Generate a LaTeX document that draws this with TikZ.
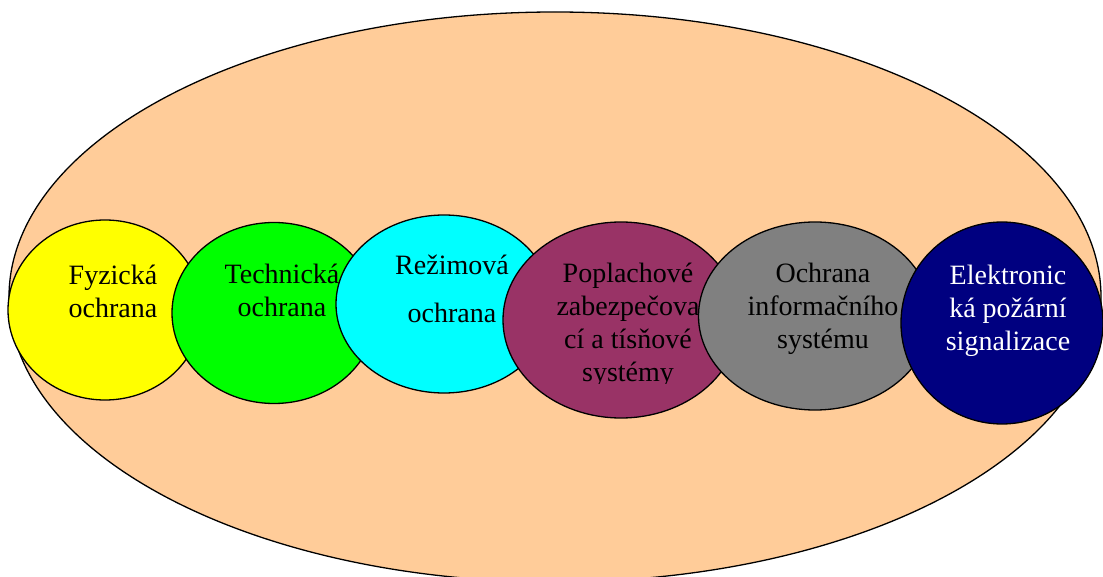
\documentclass[tikz,border=0pt]{standalone}
\usepackage{fontspec}
\setmainfont{Liberation Serif}
\usetikzlibrary{shapes.geometric}
\definecolor{peach}{RGB}{255,204,153}
\definecolor{citron}{RGB}{255,255,0}
\definecolor{lime}{RGB}{0,255,0}
\definecolor{aqua}{RGB}{0,255,255}
\definecolor{plum}{RGB}{153,51,102}
\definecolor{ash}{RGB}{128,128,128}
\definecolor{navyblue}{RGB}{0,0,128}
\begin{document}
\begin{tikzpicture}[x=1pt,y=1pt,
bub/.style={ellipse,draw,line width=1.3pt,inner sep=0pt},
lab/.style={align=center,font=\fontsize{28}{33}\selectfont}]
\useasboundingbox (0,0) rectangle (1103,-577);
\node[bub,fill=peach,minimum width=1092pt,minimum height=570pt] (zona) at (555,-297) {};
\node[bub,fill=citron,minimum width=194pt,minimum height=180pt] (fyz) at (105,-310) {};
\node[bub,fill=lime,minimum width=204pt,minimum height=181pt] (tech) at (274,-313) {};
\node[bub,fill=aqua,minimum width=216pt,minimum height=178pt] (rez) at (444,-304) {};
\node[bub,fill=plum,minimum width=236pt,minimum height=196pt] (popl) at (621,-320) {};
\node[bub,fill=ash,minimum width=233pt,minimum height=188pt] (info) at (815,-316) {};
\node[bub,fill=navyblue,minimum width=202pt,minimum height=202pt] (eps) at (1002,-323) {};
\node[lab] (fyzt) at (113,-291) {Fyzická\\ochrana};
\node[lab] (techt) at (282,-290) {Technická\\ochrana};
\node[lab] (rezt) at (452,-289) {Režimová\\[15pt]ochrana};
\begin{scope}
\clip (500,-200) rectangle (745,-383);
\node[lab] (poplt) at (628,-325) {Poplachové\\zabezpečova\\cí a tísňové\\systémy};
\end{scope}
\node[lab] (infot) at (823,-309) {Ochrana\\informačního\\systému};
\node[lab,text=white] (epst) at (1008,-311) {Elektronic\\ká požární\\signalizace};
\end{tikzpicture}
\end{document}
